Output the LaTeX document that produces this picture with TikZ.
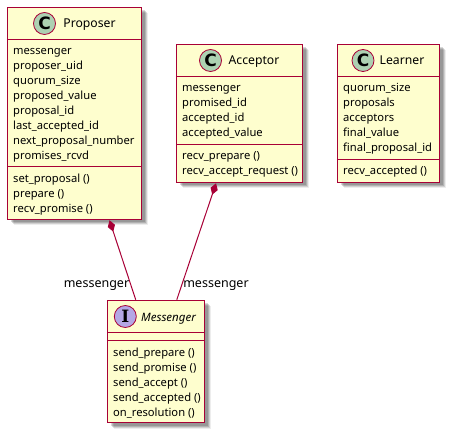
\documentclass[tikz,border=0pt]{standalone}
\usepackage{fontspec}
\setmainfont{Noto Sans}
\newfontfamily\spotfont{DejaVu Sans}
\newfontfamily\spotserif{DejaVu Serif}
\usetikzlibrary{arrows.meta,shadows}
\definecolor{umlline}{RGB}{168,0,54}
\definecolor{umlfill}{RGB}{254,254,206}
\definecolor{classspot}{RGB}{173,209,178}
\definecolor{ifacespot}{RGB}{180,167,229}
\tikzset{
  classbox/.style={draw=umlline, fill=umlfill, line width=1.5pt, inner sep=0pt,
    drop shadow={shadow xshift=6pt, shadow yshift=-6pt, fill=black, opacity=.07},
    drop shadow={shadow xshift=5pt, shadow yshift=-5pt, fill=black, opacity=.12},
    drop shadow={shadow xshift=4pt, shadow yshift=-4pt, fill=black, opacity=.15},
    drop shadow={shadow xshift=3pt, shadow yshift=-3pt, fill=black, opacity=.15}},
  sepline/.style={draw=umlline, line width=1.5pt},
  spot/.style={circle, draw=umlline, line width=.8pt, minimum size=22pt, inner sep=0pt, font=\fontsize{17}{17}\selectfont\spotfont\bfseries},
  member/.style={anchor=base west, inner sep=0pt, font=\fontsize{11.2}{14}\selectfont},
  title/.style={anchor=base, inner sep=0pt, font=\fontsize{12.2}{16}\selectfont},
  rolelabel/.style={anchor=base, inner sep=0pt, font=\fontsize{12.5}{16}\selectfont},
  composition/.style={draw=umlline, line width=1pt, {Diamond[length=12pt,width=7.5pt,fill=umlline]}-}
}
\begin{document}
\begin{tikzpicture}[x=1pt,y=-1pt]
\useasboundingbox (0,0) rectangle (452,435);
\node[classbox, minimum width=134pt, minimum height=212pt] (proposer) at (74.5,113.5) {};
\node[classbox, minimum width=126pt, minimum height=138pt] (acceptor) at (239.5,113.5) {};
\node[classbox, minimum width=102pt, minimum height=138pt] (learner) at (388.5,113.5) {};
\node[classbox, minimum width=97pt, minimum height=122pt] (messenger) at (156,361.5) {};
% proposer
\draw[sepline] (proposer.west |- 0,39.5) -- (proposer.east |- 0,39.5);
\draw[sepline] (proposer.west |- 0,166.5) -- (proposer.east |- 0,166.5);
\node[spot, fill=classspot] (proposerspot) at (44.5,23.5) {C};
\node[title] (proposertitle) at (89.5,28) {Proposer};
\node[member] (pr1) at (13,55) {messenger};
\node[member] (pr2) at (13,70) {proposer\_uid};
\node[member] (pr3) at (13,85) {quorum\_size};
\node[member] (pr4) at (13,100) {proposed\_value};
\node[member] (pr5) at (13,115) {proposal\_id};
\node[member] (pr6) at (13,130) {last\_accepted\_id};
\node[member] (pr7) at (13,145) {next\_proposal\_number};
\node[member] (pr8) at (13,160) {promises\_rcvd};
\node[member] (pr9) at (13,183) {set\_proposal ()};
\node[member] (pr10) at (13,198) {prepare ()};
\node[member] (pr11) at (13,213) {recv\_promise ()};
% acceptor
\draw[sepline] (acceptor.west |- 0,76.5) -- (acceptor.east |- 0,76.5);
\draw[sepline] (acceptor.west |- 0,144.5) -- (acceptor.east |- 0,144.5);
\node[spot, fill=classspot] (acceptorspot) at (210.5,60.5) {C};
\node[title] (acceptortitle) at (254,65) {Acceptor};
\node[member] (ac1) at (182,92) {messenger};
\node[member] (ac2) at (182,107) {promised\_id};
\node[member] (ac3) at (182,122) {accepted\_id};
\node[member] (ac4) at (182,137) {accepted\_value};
\node[member] (ac5) at (182,160) {recv\_prepare ()};
\node[member] (ac6) at (182,175) {recv\_accept\_request ()};
% learner
\draw[sepline] (learner.west |- 0,76.5) -- (learner.east |- 0,76.5);
\draw[sepline] (learner.west |- 0,159.5) -- (learner.east |- 0,159.5);
\node[spot, fill=classspot] (learnerspot) at (363,60.5) {C};
\node[title] (learnertitle) at (402,65) {Learner};
\node[member] (le1) at (343,92) {quorum\_size};
\node[member] (le2) at (343,107) {proposals};
\node[member] (le3) at (343,122) {acceptors};
\node[member] (le4) at (343,137) {final\_value};
\node[member] (le5) at (343,152) {final\_proposal\_id};
\node[member] (le6) at (343,175) {recv\_accepted ()};
% messenger
\draw[sepline] (messenger.west |- 0,332.5) -- (messenger.east |- 0,332.5);
\draw[sepline] (messenger.west |- 0,340.5) -- (messenger.east |- 0,340.5);
\node[spot, fill=ifacespot, font=\fontsize{17}{17}\selectfont\spotserif\bfseries] (messengerspot) at (125.3,316.5) {I};
\node[title, font=\fontsize{11.5}{14}\selectfont\itshape] (messengertitle) at (168.5,321) {Messenger};
\node[member] (me1) at (113,356) {send\_prepare ()};
\node[member] (me2) at (113,371) {send\_promise ()};
\node[member] (me3) at (113,386) {send\_accept ()};
\node[member] (me4) at (113,401) {send\_accepted ()};
\node[member] (me5) at (113,416) {on\_resolution ()};
% composition
\draw[composition] (proposer) -- (messenger);
\draw[composition] (acceptor) -- (messenger);
\node[rolelabel] (proposerrole) at (96.5,288) {messenger};
\node[rolelabel] (acceptorrole) at (216,288) {messenger};
\end{tikzpicture}
\end{document}
